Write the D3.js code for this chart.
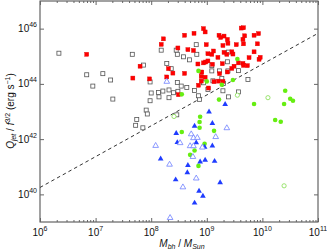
<!DOCTYPE html>
<html><head><meta charset="utf-8">
<script src="https://cdn.jsdelivr.net/npm/d3@7"></script>
<style>body{margin:0;background:#fff}svg{display:block}text{font-family:"Liberation Sans",Arial,sans-serif}</style>
</head><body><svg id="c" width="327" height="250"></svg>
<script>
// values are log10(M_bh/M_Sun) and log10(Q_jet/f^1.5 [erg/s])
const redLogM=[6.84,7.67,7.80,7.97,8.18,8.22,8.28,8.31,8.39,8.48,8.49,8.60,8.60,8.66,8.76,8.77,8.84,8.85,8.90,8.90,8.91,8.94,8.94,8.97,8.98,8.97,8.99,9.02,9.02,9.03,9.09,9.10,9.12,9.13,9.20,9.22,9.23,9.25,9.28,9.29,9.29,9.31,9.31,9.37,9.37,9.38,9.36,9.45,9.47,9.45,9.49,9.53,9.57,9.62,9.66,9.65,9.66,9.68,9.65,9.66,9.73,9.76,9.85,9.85,9.91,9.93,9.94,9.96,9.21];
const redLogQ=[45.07,44.21,44.64,44.18,45.43,45.63,44.25,44.55,44.39,45.30,43.61,45.76,44.38,45.24,45.21,45.83,44.72,43.95,44.27,44.10,44.43,44.76,46.00,45.88,44.79,44.24,45.42,45.09,44.83,43.85,45.07,44.71,45.19,44.08,44.96,45.76,44.37,45.68,44.73,45.39,44.09,45.73,45.14,45.61,44.43,45.47,45.07,45.16,45.08,44.56,44.64,45.42,44.76,46.02,46.03,45.61,45.45,45.74,44.74,44.67,44.66,44.95,45.16,45.76,45.45,45.82,44.89,44.96,44.10];
const grayLogM=[6.34,7.66,6.84,7.13,7.27,6.95,7.31,8.18,7.86,7.98,8.28,8.36,8.45,8.47,8.58,8.69,8.81,8.82,8.47,8.54,8.64,8.78,8.00,8.13,8.21,8.32,8.40,8.48,7.98,8.14,8.32,8.87,8.85,7.91,7.93,7.74,7.72,7.85,8.46,8.94,9.11,9.02,9.09,9.09,9.23,9.27,9.30,9.39,9.37,9.38,9.57,9.74,9.57,9.39,9.29];
const grayLogQ=[45.11,45.07,44.33,44.37,44.14,43.92,43.45,45.22,44.68,44.07,44.74,44.55,45.22,45.07,44.98,44.87,45.42,45.07,44.05,43.92,43.87,43.76,43.67,43.69,43.74,43.78,43.68,43.73,43.39,43.53,43.50,43.44,43.57,43.05,42.91,42.71,42.50,42.41,42.88,44.04,44.11,43.80,44.66,44.47,44.47,44.20,44.02,45.15,44.80,44.47,44.48,44.16,43.71,43.53,43.75];
const greenLogM=[8.85,9.00,8.55,9.27,9.22,9.55,9.47,10.41,10.50,10.55,9.85,10.39,10.23,10.33,8.88,8.87,8.87,8.55,9.13,8.96,8.78,8.70,8.85];
const greenLogQ=[44.47,44.09,43.62,43.97,43.43,44.90,44.14,43.75,43.46,43.39,43.27,43.27,42.69,42.63,42.81,42.62,42.41,42.26,42.30,41.83,41.59,41.43,41.03];
const greenOpenLogM=[8.41,10.10,9.55,10.39];
const greenOpenLogQ=[42.82,43.50,43.59,40.31];
const blueLogM=[9.33,9.04,9.10,8.78,8.45,8.47,8.81,8.96,9.10,8.17,8.88,8.97,9.14,8.66,8.65,8.44,9.24,8.86,8.93,8.78];
const blueLogQ=[43.26,42.99,42.57,42.47,42.21,41.88,41.87,41.71,41.76,41.29,41.18,41.24,41.20,41.05,40.79,40.53,40.43,40.12,39.94,39.69];
const blueOpenLogM=[8.28,8.08,8.72,8.52,8.70,8.76,8.76,8.83,8.92,9.16,9.36,8.75,8.33,8.57,8.81,8.34];
const blueOpenLogQ=[44.08,41.76,42.18,41.86,41.75,41.75,42.04,42.05,41.70,42.08,42.40,41.36,41.08,40.26,40.58,39.15];
const lineLogM=[6,11];
const lineLogQ=[40.25,45.83];
const xTickExp=[6,7,8,9,10,11];
const yTickExp=[40,42,44,46];

const L=40,R=318,T=1,B=222;
const svg=d3.select("#c");
const x=d3.scaleLog().domain([1e6,1e11]).range([L,R]);
const y=d3.scaleLog().domain([1e39,1e47]).range([B,T]);
const pts=(a,b)=>a.map((m,i)=>[Math.pow(10,m),Math.pow(10,b[i])]);

const plot=svg.append("g");
// dashed line
plot.append("path").datum(pts(lineLogM,lineLogQ))
 .attr("d",d3.line().x(d=>x(d[0])).y(d=>y(d[1])))
 .attr("fill","none").attr("stroke","#333").attr("stroke-width",1).attr("stroke-dasharray","3.5,3");

// gray open squares
plot.selectAll(".g").data(pts(grayLogM,grayLogQ)).join("rect")
 .attr("x",d=>x(d[0])-2).attr("y",d=>y(d[1])-2).attr("width",4).attr("height",4)
 .attr("fill","#fff").attr("stroke","#555").attr("stroke-width",0.8);
// red filled squares
plot.selectAll(".r").data(pts(redLogM,redLogQ)).join("rect")
 .attr("x",d=>x(d[0])-2).attr("y",d=>y(d[1])-2).attr("width",4).attr("height",4)
 .attr("fill","#ff0000").attr("stroke","#e00000").attr("stroke-width",0.4);
// green filled circles
plot.selectAll(".e").data(pts(greenLogM,greenLogQ)).join("circle")
 .attr("cx",d=>x(d[0])).attr("cy",d=>y(d[1])).attr("r",2.3)
 .attr("fill","#66ee11");
// green open circles
plot.selectAll(".o").data(pts(greenOpenLogM,greenOpenLogQ)).join("circle")
 .attr("cx",d=>x(d[0])).attr("cy",d=>y(d[1])).attr("r",2.1)
 .attr("fill","#fff").attr("stroke","#8fe060").attr("stroke-width",0.9);
const tri=d3.symbol().type(d3.symbolTriangle).size(14);
plot.selectAll(".b").data(pts(blueLogM,blueLogQ)).join("path")
 .attr("d",tri).attr("transform",d=>`translate(${x(d[0])},${y(d[1])})`)
 .attr("fill","#1f3cff");
plot.selectAll(".t").data(pts(blueOpenLogM,blueOpenLogQ)).join("path")
 .attr("d",tri).attr("transform",d=>`translate(${x(d[0])},${y(d[1])})`)
 .attr("fill","#fff").attr("stroke","#6f80ff").attr("stroke-width",0.8);

// frame
svg.append("rect").attr("x",L).attr("y",T).attr("width",R-L).attr("height",B-T)
 .attr("fill","none").attr("stroke","#444").attr("stroke-width",1);

// ticks
const major=xTickExp.map(e=>Math.pow(10,e));
const minor=[];
xTickExp.slice(0,-1).forEach(e=>{for(let k=2;k<10;k++)minor.push(k*Math.pow(10,e));});
const ax=(gen,ty)=>{const g=svg.append("g").attr("transform",`translate(0,${ty})`).call(gen);
 g.select(".domain").remove();g.selectAll("text").remove();g.selectAll("line").attr("stroke","#666");return g;};
ax(d3.axisBottom(x).tickValues(major).tickSize(-4),B);
ax(d3.axisBottom(x).tickValues(minor).tickSize(-2),B);
ax(d3.axisTop(x).tickValues(major).tickSize(-4),T);
ax(d3.axisTop(x).tickValues(minor).tickSize(-2),T);
const yMaj=yTickExp.map(e=>Math.pow(10,e));
const ay=(gen,tx)=>{const g=svg.append("g").attr("transform",`translate(${tx},0)`).call(gen);
 g.select(".domain").remove();g.selectAll("text").remove();g.selectAll("line").attr("stroke","#666");return g;};
ay(d3.axisLeft(y).tickValues(yMaj).tickSize(-4),L);
ay(d3.axisRight(y).tickValues(yMaj).tickSize(-4),R);

// tick labels
xTickExp.forEach(e=>{
 const t=svg.append("text").attr("x",x(Math.pow(10,e))).attr("y",236).attr("text-anchor","middle").attr("font-size",10).attr("fill","#111");
 t.append("tspan").text("10");
 t.append("tspan").attr("dy",-5).attr("font-size",7).text(e);
});
yTickExp.forEach(e=>{
 const t=svg.append("text").attr("x",37).attr("y",y(Math.pow(10,e))+3.5).attr("text-anchor","end").attr("font-size",10).attr("fill","#111");
 t.append("tspan").text("10");
 t.append("tspan").attr("dy",-5).attr("font-size",7).text(e);
});

// axis labels
const xl=svg.append("text").attr("x",182).attr("y",247).attr("text-anchor","middle").attr("font-size",10).attr("fill","#111");
xl.append("tspan").attr("font-style","italic").text("M");
xl.append("tspan").attr("font-style","italic").attr("font-size",7).attr("dy",2).text("bh");
xl.append("tspan").attr("dy",-2).text(" / ");
xl.append("tspan").attr("font-style","italic").text("M");
xl.append("tspan").attr("font-style","italic").attr("font-size",7).attr("dy",2).text("Sun");

const yl=svg.append("text").attr("transform","translate(14,111) rotate(-90)").attr("text-anchor","middle").attr("font-size",10).attr("fill","#111");
yl.append("tspan").attr("font-style","italic").text("Q");
yl.append("tspan").attr("font-style","italic").attr("font-size",7).attr("dy",2).text("jet");
yl.append("tspan").attr("dy",-2).text(" / ");
yl.append("tspan").attr("font-style","italic").text("f");
yl.append("tspan").attr("font-size",7).attr("dy",-4).text("3/2");
yl.append("tspan").attr("dy",4).text(" (erg s");
yl.append("tspan").attr("font-size",7).attr("dy",-4).text("−1");
yl.append("tspan").attr("dy",4).text(")");
</script></body></html>
